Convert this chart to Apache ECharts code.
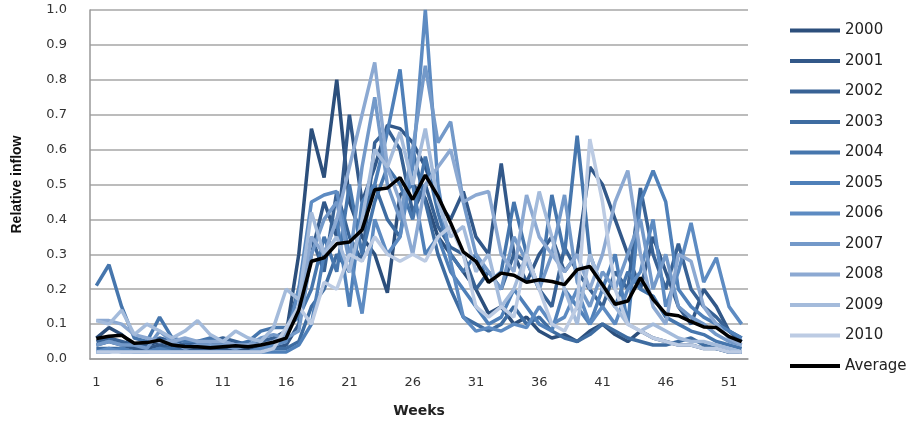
<!DOCTYPE html>
<html>
<head>
<meta charset="utf-8">
<script src="https://cdn.jsdelivr.net/npm/echarts@6/dist/echarts.min.js"></script>
<style>
  html, body { margin: 0; padding: 0; background: #fff; }
  #chart { width: 920px; height: 423px; }
</style>
</head>
<body>
<div id="chart"></div>
<script>
// Week numbers 1..52
const weeks = [
  1, 2, 3, 4, 5, 6, 7, 8, 9, 10, 11, 12, 13, 14, 15, 16, 17, 18, 19, 20, 21, 22, 23, 24, 25, 26,
  27, 28, 29, 30, 31, 32, 33, 34, 35, 36, 37, 38, 39, 40, 41, 42, 43, 44, 45, 46, 47, 48, 49, 50, 51, 52
];

// Relative inflow per week, one array per year
const y2000 = [0.06,0.09,0.07,0.04,0.04,0.05,0.04,0.04,0.05,0.05,0.04,0.03,0.03,0.04,0.05,
  0.07,0.30,0.66,0.52,0.80,0.45,0.35,0.30,0.19,0.47,0.50,0.46,0.35,0.30,0.25,0.20,0.13,0.15,
  0.10,0.12,0.08,0.06,0.07,0.05,0.08,0.10,0.07,0.05,0.08,0.06,0.05,0.04,0.04,0.03,0.03,0.02,0.02];
const y2001 = [0.04,0.05,0.04,0.03,0.03,0.04,0.03,0.03,0.03,0.03,0.03,0.02,0.02,0.03,0.03,
  0.04,0.10,0.30,0.45,0.35,0.70,0.45,0.55,0.67,0.66,0.62,0.55,0.45,0.40,0.48,0.35,0.30,0.56,
  0.30,0.22,0.30,0.35,0.25,0.30,0.55,0.50,0.40,0.30,0.20,0.35,0.25,0.15,0.10,0.20,0.15,0.08,0.05];
const y2002 = [0.05,0.06,0.05,0.04,0.04,0.06,0.05,0.04,0.04,0.05,0.06,0.05,0.04,0.05,0.06,
  0.08,0.20,0.35,0.25,0.48,0.35,0.28,0.62,0.66,0.60,0.42,0.50,0.38,0.32,0.30,0.20,0.25,0.20,
  0.30,0.28,0.20,0.15,0.32,0.25,0.20,0.15,0.25,0.20,0.49,0.30,0.20,0.33,0.20,0.15,0.12,0.08,0.06];
const y2003 = [0.03,0.03,0.03,0.02,0.02,0.03,0.03,0.02,0.02,0.02,0.02,0.02,0.02,0.02,0.03,
  0.03,0.05,0.15,0.20,0.30,0.25,0.40,0.50,0.40,0.35,0.60,0.45,0.30,0.20,0.12,0.10,0.08,0.10,
  0.15,0.10,0.12,0.08,0.06,0.05,0.07,0.10,0.08,0.06,0.05,0.04,0.04,0.05,0.06,0.04,0.03,0.02,0.02];
const y2004 = [0.21,0.27,0.15,0.06,0.05,0.12,0.06,0.05,0.05,0.06,0.05,0.04,0.05,0.08,0.09,
  0.09,0.12,0.20,0.35,0.25,0.50,0.30,0.45,0.55,0.50,0.40,0.58,0.42,0.30,0.25,0.30,0.22,0.25,
  0.45,0.30,0.20,0.47,0.30,0.64,0.30,0.20,0.15,0.25,0.20,0.18,0.12,0.10,0.08,0.07,0.05,0.04,0.03];
const y2005 = [0.02,0.02,0.03,0.02,0.02,0.03,0.02,0.02,0.02,0.02,0.02,0.02,0.02,0.02,0.02,
  0.02,0.04,0.10,0.30,0.40,0.15,0.45,0.50,0.65,0.83,0.50,0.30,0.35,0.25,0.20,0.15,0.10,0.12,
  0.20,0.15,0.10,0.08,0.20,0.15,0.10,0.20,0.30,0.10,0.45,0.54,0.45,0.20,0.15,0.12,0.10,0.08,0.06];
const y2006 = [0.02,0.03,0.02,0.02,0.02,0.02,0.02,0.02,0.02,0.02,0.02,0.02,0.02,0.03,0.04,
  0.05,0.20,0.45,0.47,0.48,0.30,0.13,0.40,0.30,0.35,0.55,1.00,0.50,0.28,0.12,0.08,0.09,0.08,
  0.10,0.09,0.15,0.10,0.12,0.20,0.10,0.15,0.10,0.20,0.25,0.40,0.15,0.25,0.39,0.22,0.29,0.15,0.10];
const y2007 = [0.04,0.05,0.04,0.04,0.03,0.08,0.05,0.03,0.04,0.04,0.04,0.03,0.04,0.06,0.07,
  0.06,0.08,0.30,0.40,0.45,0.28,0.55,0.75,0.50,0.40,0.60,0.84,0.62,0.68,0.45,0.30,0.25,0.20,
  0.35,0.28,0.20,0.30,0.47,0.22,0.15,0.25,0.20,0.30,0.40,0.20,0.30,0.15,0.12,0.10,0.07,0.05,0.04];
const y2008 = [0.11,0.11,0.10,0.07,0.06,0.05,0.05,0.06,0.05,0.05,0.05,0.04,0.04,0.04,0.05,
  0.07,0.15,0.35,0.30,0.40,0.55,0.70,0.85,0.55,0.45,0.30,0.50,0.55,0.60,0.45,0.47,0.48,0.30,
  0.25,0.47,0.35,0.30,0.25,0.30,0.20,0.30,0.45,0.54,0.30,0.15,0.10,0.30,0.28,0.15,0.10,0.06,0.04];
const y2009 = [0.11,0.10,0.14,0.07,0.10,0.08,0.06,0.08,0.11,0.07,0.05,0.08,0.06,0.05,0.09,
  0.20,0.17,0.42,0.30,0.35,0.25,0.40,0.60,0.55,0.65,0.50,0.66,0.45,0.35,0.38,0.25,0.30,0.15,
  0.20,0.30,0.48,0.35,0.20,0.10,0.30,0.20,0.15,0.10,0.08,0.10,0.08,0.06,0.05,0.05,0.04,0.03,0.02];
const y2010 = [0.02,0.02,0.02,0.02,0.02,0.02,0.02,0.02,0.02,0.02,0.02,0.02,0.02,0.02,0.03,
  0.09,0.15,0.10,0.22,0.20,0.30,0.28,0.35,0.30,0.28,0.30,0.28,0.35,0.38,0.30,0.15,0.12,0.15,
  0.12,0.30,0.20,0.10,0.08,0.15,0.63,0.45,0.20,0.10,0.08,0.06,0.05,0.04,0.04,0.03,0.03,0.02,0.02];
const average = [0.059,0.065,0.068,0.045,0.047,0.054,0.040,0.036,0.035,0.032,0.035,0.038,0.035,0.040,0.048,
  0.060,0.140,0.280,0.290,0.330,0.335,0.370,0.485,0.490,0.520,0.457,0.527,0.466,0.390,0.307,0.280,0.220,0.246,
  0.240,0.220,0.227,0.222,0.213,0.256,0.265,0.213,0.157,0.166,0.233,0.171,0.129,0.124,0.107,0.092,0.090,0.064,0.050];

// Series names (legend entries)
const seriesNames = ['2000','2001','2002','2003','2004','2005','2006','2007','2008','2009','2010','Average'];
const seriesData = [y2000, y2001, y2002, y2003, y2004, y2005, y2006, y2007, y2008, y2009, y2010, average];

// Blue ramp from dark (2000) to light (2010), black for the average
const palette = ['#2c4f7c','#325889','#386295','#3e6ca1','#4676ad','#4f80b9','#5d8bc2',
  '#7399c9','#8ca9d2','#a4bbdb','#bccbe3','#000000'];

const chart = echarts.init(document.getElementById('chart'), null, { renderer: 'canvas' });

const labelFont = 'DejaVu Sans, Verdana, sans-serif';

chart.setOption({
  animation: false,
  backgroundColor: '#ffffff',
  color: palette,
  grid: { left: 90, right: 172, top: 10, bottom: 57, containLabel: false },
  legend: {
    orient: 'vertical',
    left: 785,
    top: 18,
    icon: 'rect',
    itemWidth: 50,
    itemHeight: 4,
    itemGap: 15.5,
    textStyle: { fontFamily: labelFont, fontSize: 15, color: '#222', lineHeight: 14, padding: [0, 0, 0, 0] },
    data: seriesNames
  },
  xAxis: {
    type: 'category',
    data: weeks,
    boundaryGap: true,
    name: 'Weeks',
    nameLocation: 'middle',
    nameGap: 45,
    nameTextStyle: { fontFamily: labelFont, fontSize: 14, fontWeight: 'bold', color: '#222' },
    axisLine: { lineStyle: { color: '#999', width: 1.5 } },
    axisTick: { show: false },
    axisLabel: { interval: 4, fontFamily: labelFont, fontSize: 13, color: '#333', margin: 17 },
    splitLine: { show: false }
  },
  yAxis: {
    type: 'value',
    min: 0,
    max: 1,
    interval: 0.1,
    name: 'Relative inflow',
    nameLocation: 'middle',
    nameGap: 66,
    nameTextStyle: { fontFamily: 'Liberation Sans Narrow, Liberation Sans, sans-serif', fontSize: 14, fontWeight: 'bold', color: '#111' },
    axisLine: { show: true, lineStyle: { color: '#999', width: 1.5 } },
    axisTick: { show: false },
    axisLabel: {
      fontFamily: labelFont, fontSize: 13, color: '#333', margin: 23,
      formatter: v => v.toFixed(1)
    },
    splitLine: { lineStyle: { color: '#a6a6a6', width: 1.5 } }
  },
  series: seriesNames.map((name, i) => ({
    name: name,
    type: 'line',
    data: seriesData[i],
    symbol: 'none',
    smooth: false,
    lineStyle: { width: 3.5, color: palette[i] },
    itemStyle: { color: palette[i] },
    z: 2 + i
  }))
});
</script>
</body>
</html>
